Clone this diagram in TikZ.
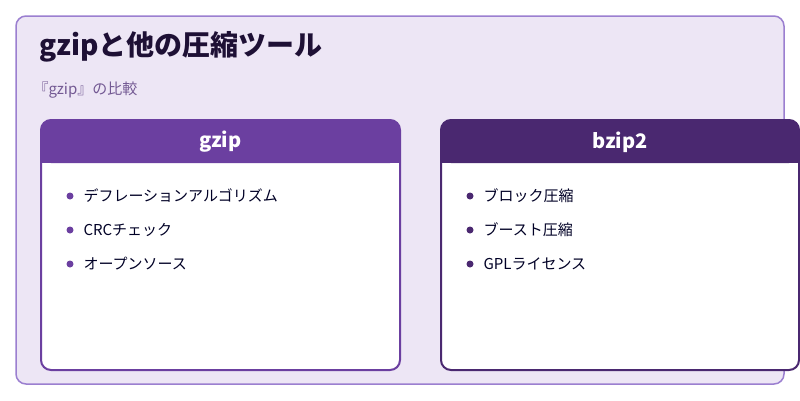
\documentclass[tikz,border=0pt]{standalone}
\usepackage{fontspec}
\setmainfont{Noto Sans CJK JP}
\begin{document}
\begin{tikzpicture}[x=1pt,y=-1pt,
  item/.style={anchor=west,font=\fontsize{15}{18}\selectfont,text=black!85!blue},
  hdr/.style={font=\fontsize{20}{24}\selectfont\bfseries,text=white}]
\definecolor{bg}{HTML}{EDE6F5}
\definecolor{frame}{HTML}{9B7FD0}
\definecolor{ca}{HTML}{6B3FA0}
\definecolor{cb}{HTML}{4A2870}
\definecolor{ttl}{HTML}{1E1035}
\useasboundingbox (0,0) rectangle (800,400);
\fill[white] (0,0) rectangle (800,400);
\draw[frame,fill=bg,line width=1.5,rounded corners=10] (16,16) rectangle (784,384);
\node[anchor=west,font=\fontsize{28}{32}\selectfont\bfseries,text=ttl] (title) at (36,47) {gzipと他の圧縮ツール};
\node[anchor=west,font=\fontsize{15}{18}\selectfont,text=ca!60!gray] (sub) at (30,90) {『gzip』の比較};
% left card
\draw[ca,fill=white,line width=2,rounded corners=10] (41,120) rectangle (400,370);
\fill[ca,rounded corners=10] (41,120) rectangle (400,163);
\fill[ca] (41,150) rectangle (400,163);
\node[hdr] (ha) at (220.5,142) {gzip};
\foreach \t/\y [count=\i] in {デフレーションアルゴリズム/196,CRCチェック/230,オープンソース/264}{
  \fill[ca] (70,\y) circle (3.5);
  \node[item] (a\i) at (80,\y) {\t};}
% right card
\draw[cb,fill=white,line width=2,rounded corners=10] (441,120) rectangle (799,370);
\fill[cb,rounded corners=10] (441,120) rectangle (799,163);
\fill[cb] (441,150) rectangle (799,163);
\node[hdr] (hb) at (620,142) {bzip2};
\foreach \t/\y [count=\i] in {ブロック圧縮/196,ブースト圧縮/230,GPLライセンス/264}{
  \fill[cb] (470,\y) circle (3.5);
  \node[item] (b\i) at (480,\y) {\t};}
\end{tikzpicture}
\end{document}
